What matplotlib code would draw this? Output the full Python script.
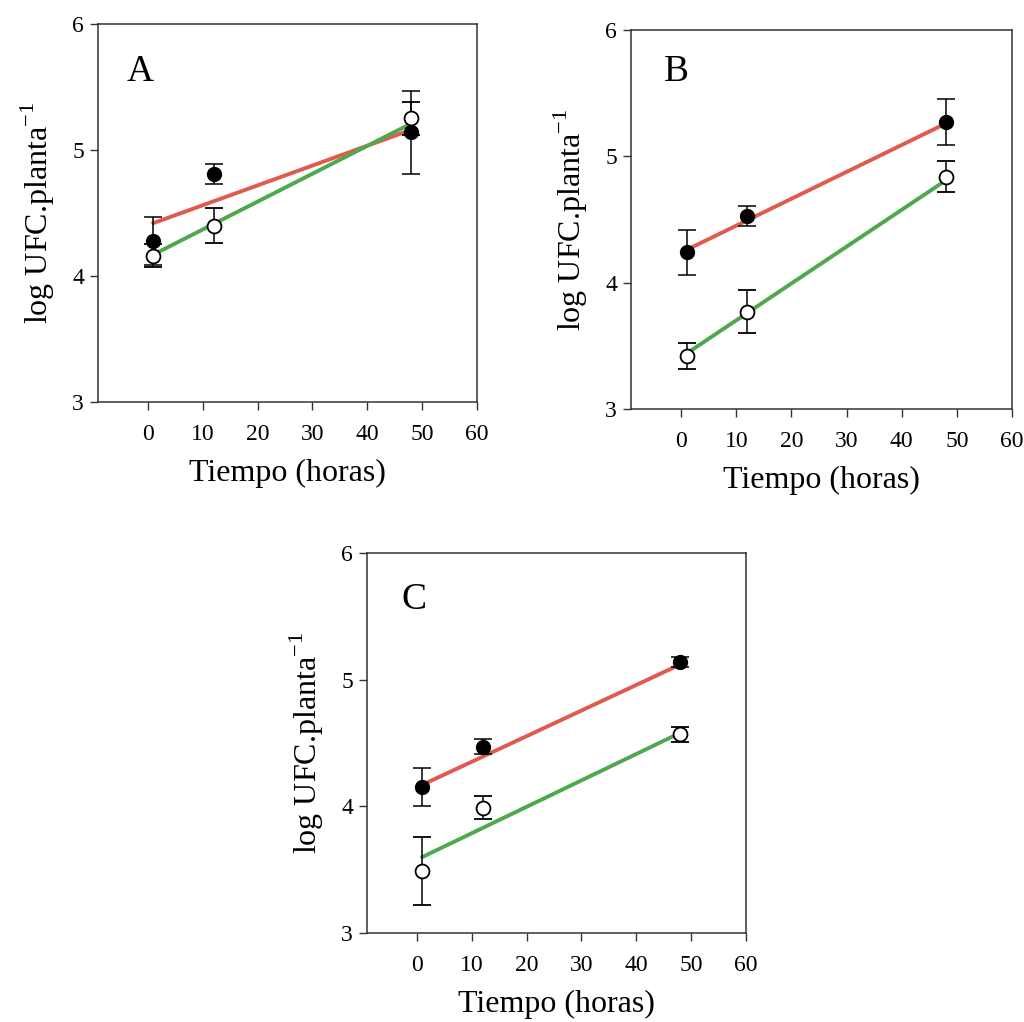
import matplotlib.pyplot as plt

# sampling times (h)
horas = [1, 12, 48]

# panel A
a_lleno = [4.28, 4.81, 5.14]
a_lleno_err = [0.19, 0.08, 0.33]
a_vacio = [4.16, 4.40, 5.25]
a_vacio_err = [0.09, 0.14, 0.13]
a_ajuste_rojo = [4.42, 5.16]
a_ajuste_verde = [4.17, 5.21]

# panel B
b_lleno = [4.24, 4.53, 5.27]
b_lleno_err = [0.18, 0.08, 0.18]
b_vacio = [3.42, 3.77, 4.84]
b_vacio_err = [0.10, 0.17, 0.12]
b_ajuste_rojo = [4.26, 5.26]
b_ajuste_verde = [3.44, 4.81]

# panel C
c_lleno = [4.15, 4.47, 5.14]
c_lleno_err = [0.15, 0.06, 0.04]
c_vacio = [3.49, 3.99, 4.57]
c_vacio_err = [0.27, 0.09, 0.06]
c_ajuste_rojo = [4.17, 5.12]
c_ajuste_verde = [3.60, 4.58]

ajuste_x = [1, 48]
xticks = [0, 10, 20, 30, 40, 50, 60]
yticks = [3, 4, 5, 6]

plt.rcParams['font.family'] = ['Liberation Serif', 'DejaVu Serif']

fig = plt.figure(figsize=(10.24, 10.22), dpi=100)
W, H = 1024, 1022


def panel(rect, letra, lleno, lleno_err, vacio, vacio_err, rojo, verde, letra_pos):
    l, t, r, b = rect
    ax = fig.add_axes([l / W, 1 - b / H, (r - l) / W, (b - t) / H])
    ax.plot(ajuste_x, rojo, color='#e05a4e', lw=2.8, zorder=2)
    ax.plot(ajuste_x, verde, color='#4ea84e', lw=2.8, zorder=2)
    ax.errorbar(horas, lleno, yerr=lleno_err, fmt='o', color='black', ms=10,
                ecolor='black', elinewidth=1.1, capsize=6.5, capthick=1.1, zorder=3)
    ax.errorbar(horas, vacio, yerr=vacio_err, fmt='o', mfc='white', mec='black',
                mew=1.3, ms=10, ecolor='black', elinewidth=1.1, capsize=6.5,
                capthick=1.1, zorder=4)
    ax.set_xlim(-9.1, 60)
    ax.set_ylim(3, 6)
    ax.set_xticks(xticks)
    ax.set_yticks(yticks)
    ax.tick_params(direction='out', length=6, width=1, labelsize=17, color='#333333')
    ax.tick_params(axis='x', pad=10)
    ax.tick_params(axis='y', pad=4)
    for s in ax.spines.values():
        s.set_linewidth(1.1)
        s.set_color('#333333')
    ax.set_xlabel('Tiempo (horas)', fontsize=23, labelpad=10)
    ax.set_ylabel('log UFC.planta$^{\\mathregular{-1}}$', fontsize=23, labelpad=11)
    ax.text(letra_pos[0], letra_pos[1], letra, transform=ax.transAxes,
            fontsize=27, va='center', ha='left')
    return ax


panel((98, 24, 477, 402), 'A', a_lleno, a_lleno_err, a_vacio, a_vacio_err,
      a_ajuste_rojo, a_ajuste_verde, (0.075, 0.873))
panel((631, 30, 1012, 409), 'B', b_lleno, b_lleno_err, b_vacio, b_vacio_err,
      b_ajuste_rojo, b_ajuste_verde, (0.085, 0.89))
panel((367, 553, 746, 933), 'C', c_lleno, c_lleno_err, c_vacio, c_vacio_err,
      c_ajuste_rojo, c_ajuste_verde, (0.09, 0.876))

fig.savefig('out.png', dpi=100)
